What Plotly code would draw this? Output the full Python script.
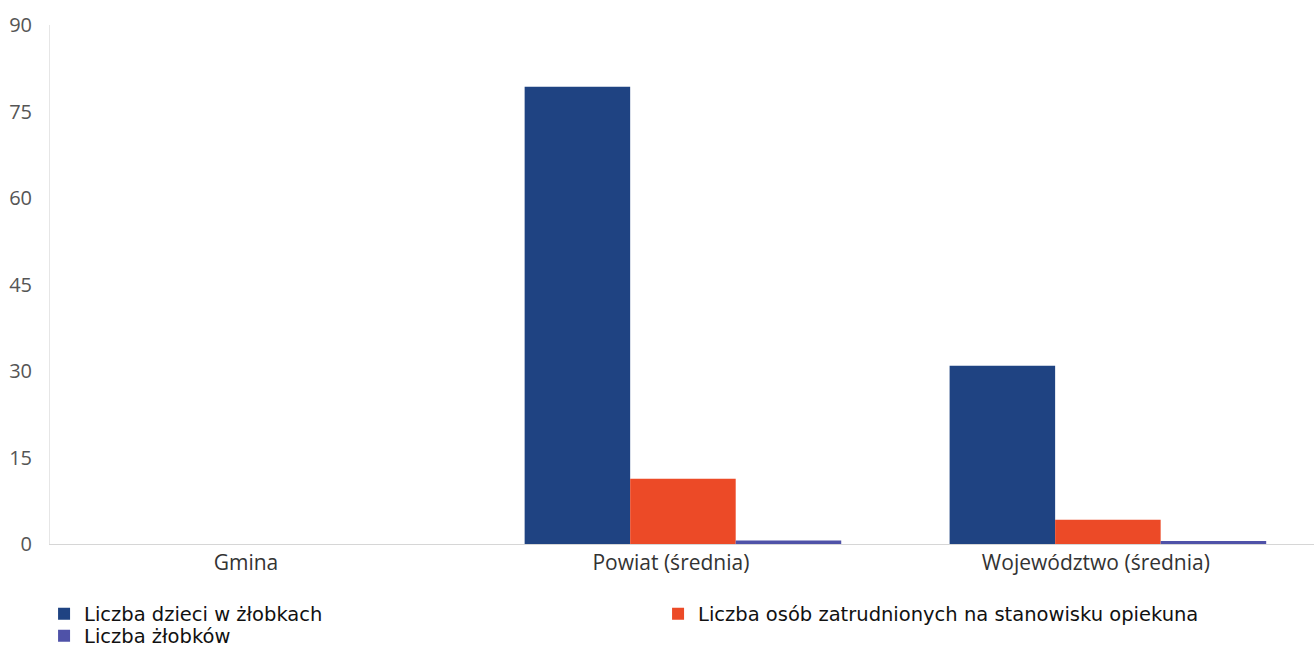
import plotly.graph_objects as go

CATEGORIES = ["Gmina", "Powiat (średnia)", "Województwo (średnia)"]
DZIECI = [0, 79.3, 30.9]
OPIEKUNOWIE = [0, 11.3, 4.2]
ZLOBKI = [0, 0.6, 0.5]
Y_TICKS = [0, 15, 30, 45, 60, 75, 90]

COLORS = {"dzieci": "#1f4382", "opiekun": "#ec4a27", "zlobki": "#4f52a8"}
LEGEND_FONT = dict(family="DejaVu Sans, Verdana, sans-serif", size=19.5, color="#111111")

fig = go.Figure()
fig.add_bar(x=CATEGORIES, y=DZIECI, name="Liczba dzieci w żłobkach",
            marker=dict(color=COLORS["dzieci"], line=dict(width=0)), legend="legend")
fig.add_bar(x=CATEGORIES, y=OPIEKUNOWIE, name="Liczba osób zatrudnionych na stanowisku opiekuna",
            marker=dict(color=COLORS["opiekun"], line=dict(width=0)), legend="legend")
fig.add_bar(x=CATEGORIES, y=ZLOBKI, name="Liczba żłobków",
            marker=dict(color=COLORS["zlobki"], line=dict(width=0)), legend="legend2")

fig.update_layout(
    width=1314,
    height=647,
    barmode="group",
    bargap=0.255,
    bargroupgap=0,
    margin=dict(l=50, r=0, t=25, b=103, autoexpand=False),
    paper_bgcolor="#ffffff",
    plot_bgcolor="#ffffff",
    font=dict(family="Open Sans, sans-serif", size=20, color="#333333"),
    showlegend=True,
    legend=dict(
        orientation="h",
        x=-0.0047,
        xanchor="left",
        y=-0.1349,
        yanchor="middle",
        entrywidth=569,
        entrywidthmode="pixels",
        traceorder="normal",
        font=LEGEND_FONT,
        bgcolor="rgba(0,0,0,0)",
    ),
    legend2=dict(
        orientation="h",
        x=-0.0047,
        xanchor="left",
        y=-0.1773,
        yanchor="middle",
        font=LEGEND_FONT,
        bgcolor="rgba(0,0,0,0)",
    ),
)
fig.update_xaxes(
    range=[-0.4894, 2.485],
    showgrid=False,
    showline=True,
    linecolor="#d6d6d6",
    linewidth=1,
    ticks="",
    ticklabelshift=-12,
    tickfont=dict(size=21, color="#333333"),
)
fig.update_yaxes(
    range=[0, 90],
    tickvals=Y_TICKS,
    showgrid=False,
    zeroline=False,
    showline=True,
    linecolor="#e6e6e6",
    linewidth=1,
    ticks="",
    ticklabelstandoff=13,
    tickfont=dict(size=20, color="#555555"),
)

# drop the default 8px body margin so the figure fills the window exactly
fig.write_html(
    "out.html",
    config={"displayModeBar": False},
    post_script="document.body.style.margin = '0px';",
)
